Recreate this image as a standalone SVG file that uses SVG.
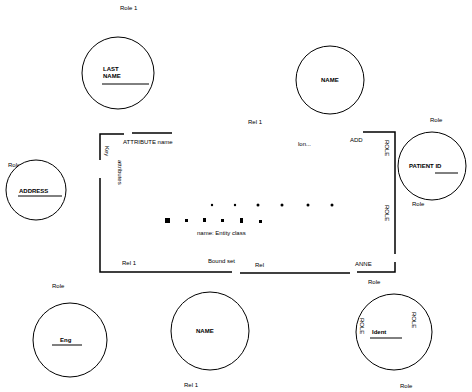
<svg xmlns="http://www.w3.org/2000/svg" width="472" height="392" viewBox="0 0 472 392">
<style>
  .c{fill:#fff;stroke:#000;stroke-width:1}
  .t{font-family:"Liberation Sans",Arial,sans-serif;font-size:6px;fill:#000}
  .k{font-family:"Liberation Sans",Arial,sans-serif;font-size:6px;font-weight:bold;fill:#000}
  .u{stroke:#000;stroke-width:1}
  .b{fill:none;stroke:#000;stroke-width:1.5}
  .d{fill:#000}
</style>
<rect width="472" height="392" fill="#fff"/>
<g id="connectors">
  <path class="b" d="M100,160 V134 H124"/>
  <path class="b" d="M132,133 H172"/>
  <path class="b" d="M363,132 H395 V254"/>
  <path class="b" d="M395,262 V272 H357"/>
  <path class="b" d="M100,178 V272 H232"/>
  <path class="b" d="M240,273 H350"/>
</g>
<g id="frame">
  <text class="t" x="123" y="144">ATTRIBUTE name</text>
  <text class="t" x="298" y="146">lon...</text>
  <text class="t" x="350" y="142">ADD</text>
  <text class="t" transform="translate(105,146) rotate(90)">Key</text>
  <text class="t" transform="translate(118,160) rotate(90)">attributes</text>
  <text class="t" transform="translate(385,140) rotate(90)">ROLE</text>
  <text class="t" transform="translate(385,205) rotate(90)">ROLE</text>
  <text class="t" x="122" y="265">Rel 1</text>
  <text class="t" x="208" y="263">Bound set</text>
  <text class="t" x="255" y="267">Rel</text>
  <text class="t" x="355" y="266">ANNE</text>
  <g class="d">
    <circle cx="212" cy="205" r="1.2"/><circle cx="235" cy="205" r="1.2"/><circle cx="258" cy="205" r="1.5"/>
    <circle cx="282" cy="205" r="1.5"/><circle cx="308" cy="205" r="1.5"/><circle cx="332" cy="205" r="1.5"/>
    <rect x="165" y="218" width="5" height="5"/><rect x="185" y="219" width="3" height="3"/>
    <rect x="203" y="218" width="3" height="4"/><rect x="221" y="219" width="3" height="3"/>
    <rect x="240" y="218" width="3" height="5"/><rect x="259" y="220" width="3" height="3"/>
  </g>
  <text class="t" x="197" y="235">name: Entity class</text>
</g>
<g id="n1">
  <text class="t" x="120" y="10">Role 1</text>
  <circle class="c" cx="118" cy="73" r="36"/>
  <text class="k" x="103" y="71">LAST</text>
  <text class="k" x="103" y="78">NAME</text>
  <line class="u" x1="102" y1="84" x2="149" y2="84"/>
</g>
<g id="n2">
  <circle class="c" cx="330" cy="80" r="34"/>
  <text class="k" x="321" y="82">NAME</text>
  <text class="t" x="248" y="124">Rel 1</text>
</g>
<g id="n3">
  <text class="t" x="430" y="122">Role</text>
  <circle class="c" cx="432" cy="166" r="34"/>
  <text class="k" x="409" y="168">PATIENT ID</text>
  <line class="u" x1="435" y1="173" x2="458" y2="173"/>
  <text class="t" x="412" y="206">Role</text>
</g>
<g id="n4">
  <text class="t" x="8" y="167">Role</text>
  <circle class="c" cx="36" cy="190" r="30"/>
  <text class="k" x="19" y="193">ADDRESS</text>
  <line class="u" x1="18" y1="196" x2="62" y2="196"/>
</g>
<g id="n5">
  <text class="t" x="52" y="288">Role</text>
  <circle class="c" cx="70" cy="340" r="37"/>
  <text class="k" x="60" y="342">Eng</text>
  <line class="u" x1="52" y1="345" x2="82" y2="345"/>
</g>
<g id="n6">
  <circle class="c" cx="210" cy="331" r="39"/>
  <text class="k" x="196" y="333">NAME</text>
  <text class="t" x="184" y="387">Rel 1</text>
</g>
<g id="n7">
  <text class="t" x="368" y="284">Role</text>
  <circle class="c" cx="394" cy="332" r="38"/>
  <text class="k" x="372" y="334">Ident</text>
  <line class="u" x1="370" y1="338" x2="402" y2="338"/>
  <text class="t" transform="translate(412,312) rotate(90)">ROLE</text>
  <text class="t" transform="translate(360,318) rotate(90)">ROLE</text>
  <text class="t" x="400" y="388">Role</text>
</g>
</svg>
